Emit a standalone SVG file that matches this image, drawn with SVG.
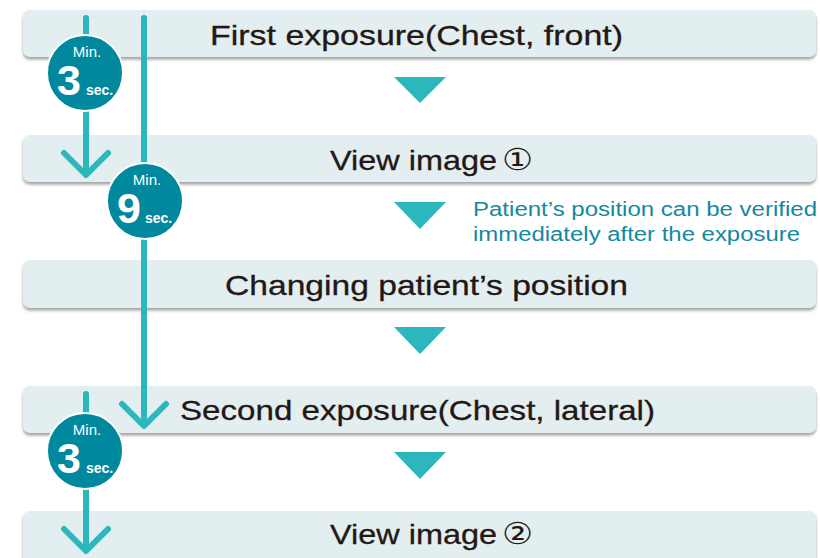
<svg xmlns="http://www.w3.org/2000/svg" width="820" height="558" viewBox="0 0 820 558">
<defs>
<filter id="sh" x="-5%" y="-20%" width="110%" height="150%">
<feDropShadow dx="0" dy="2.5" stdDeviation="1.5" flood-color="#6e6e6e" flood-opacity="0.65"/>
</filter>
<style>
.bar{fill:#e3eef0;filter:url(#sh)}
.lbl{font-family:"Liberation Sans",Arial,sans-serif;font-size:28px;fill:#231815;stroke:#231815;stroke-width:0.3}
.cd{font-family:"DejaVu Sans",sans-serif;font-size:30px;fill:#231815}
.note{font-family:"Liberation Sans",Arial,sans-serif;font-size:20px;fill:#14899e}
.tri{fill:#2bb7bb}
.flow{stroke:#2bb7bb;stroke-width:6;fill:none;stroke-linecap:round;stroke-linejoin:round}
.badge{fill:#00889e;stroke:#ffffff;stroke-width:2}
.min{font-family:"Liberation Sans",Arial,sans-serif;font-size:15px;fill:#ffffff;text-anchor:middle}
.num{font-family:"Liberation Sans",Arial,sans-serif;font-size:43px;font-weight:bold;fill:#ffffff}
.sec{font-family:"Liberation Sans",Arial,sans-serif;font-size:14px;font-weight:bold;fill:#ffffff}
</style>
</defs>
<rect width="820" height="558" fill="#ffffff"/>

<g id="step1">
<rect class="bar" x="23" y="10" width="793" height="47" rx="7"/>
<text class="lbl" x="210" y="45" textLength="413" lengthAdjust="spacingAndGlyphs">First exposure(Chest, front)</text>
</g>
<g id="step2">
<rect class="bar" x="23" y="135" width="793" height="47" rx="7"/>
<text class="lbl" x="330" y="170" textLength="167" lengthAdjust="spacingAndGlyphs">View image</text>
<text class="cd" x="502" y="170" textLength="31" lengthAdjust="spacingAndGlyphs">①</text>
</g>
<g id="step3">
<rect class="bar" x="23" y="260" width="793" height="48" rx="7"/>
<text class="lbl" x="225" y="295" textLength="403" lengthAdjust="spacingAndGlyphs">Changing patient’s position</text>
</g>
<g id="step4">
<rect class="bar" x="23" y="386" width="793" height="47" rx="7"/>
<text class="lbl" x="180" y="420" textLength="475" lengthAdjust="spacingAndGlyphs">Second exposure(Chest, lateral)</text>
</g>
<g id="step5">
<rect class="bar" x="23" y="511" width="793" height="60" rx="7"/>
<text class="lbl" x="330" y="544" textLength="167" lengthAdjust="spacingAndGlyphs">View image</text>
<text class="cd" x="502" y="544" textLength="31" lengthAdjust="spacingAndGlyphs">②</text>
</g>

<g id="note">
<text class="note" x="473" y="216" textLength="344" lengthAdjust="spacingAndGlyphs">Patient’s position can be verified</text>
<text class="note" x="473" y="241" textLength="327" lengthAdjust="spacingAndGlyphs">immediately after the exposure</text>
</g>

<g id="connectors">
<polygon class="tri" points="394,77 446,77 420,103"/>
<polygon class="tri" points="394,202 446,202 420,229"/>
<polygon class="tri" points="394,327 446,327 420,354"/>
<polygon class="tri" points="394,452 446,452 420,479"/>
<path class="flow" d="M86,18 V174 M64,153 L86,175 L108,153"/>
<path class="flow" d="M144,18 V425 M122,404 L144,426 L166,404"/>
<path class="flow" d="M86,394 V550 M64,529 L86,551 L108,529"/>
</g>

<g id="badge1">
<circle class="badge" cx="85" cy="73" r="38"/>
<text class="min" x="87" y="57">Min.</text>
<text class="num" x="57" y="95">3</text>
<text class="sec" x="86" y="95">sec.</text>
</g>
<g id="badge2">
<circle class="badge" cx="145" cy="201" r="38"/>
<text class="min" x="147" y="185">Min.</text>
<text class="num" x="117" y="223">9</text>
<text class="sec" x="145" y="223">sec.</text>
</g>
<g id="badge3">
<circle class="badge" cx="85" cy="451" r="38"/>
<text class="min" x="87" y="435">Min.</text>
<text class="num" x="57" y="473">3</text>
<text class="sec" x="86" y="473">sec.</text>
</g>
</svg>
